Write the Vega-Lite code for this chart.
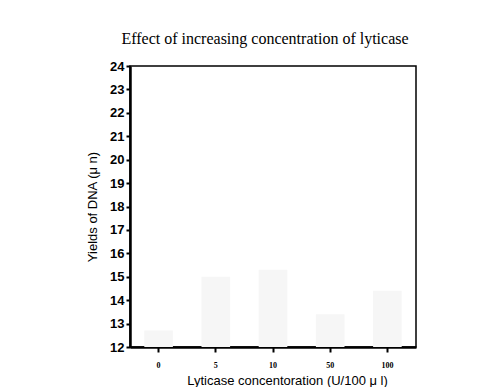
{
  "$schema": "https://vega.github.io/schema/vega-lite/v6.json",
  "autosize": "none",
  "width": 286,
  "height": 281,
  "padding": {"left": 130, "top": 66, "right": 86, "bottom": 40},
  "background": "white",
  "title": {"text": "Effect of increasing concentration of lyticase", "font": "Liberation Serif", "fontSize": 16, "fontWeight": "normal", "color": "black", "offset": 13, "anchor": "middle", "dx": -8},
  "config": {"view": {"stroke": "black", "strokeWidth": 1.5}},
  "data": {"values": [
    {"conc": "0", "yield": 12.7},
    {"conc": "5", "yield": 15.0},
    {"conc": "10", "yield": 15.3},
    {"conc": "50", "yield": 13.4},
    {"conc": "100", "yield": 14.4}
  ]},
  "mark": {"type": "bar", "fill": "#f6f6f6", "clip": true},
  "encoding": {
    "x": {"field": "conc", "type": "ordinal", "sort": ["0", "5", "10", "50", "100"],
      "scale": {"paddingInner": 0.5, "paddingOuter": 0.25},
      "axis": {"title": "Lyticase concentoration (U/100 \u03bc l)", "titleFont": "Liberation Sans", "titleFontSize": 13, "titleFontWeight": "normal", "titleColor": "black", "titlePadding": 5, "titleX": 157,
        "labelAngle": 0, "labelFont": "Liberation Serif", "labelFontSize": 8, "labelFontWeight": "bold", "labelColor": "black", "labelPadding": 9, "labelOverlap": false, "labelDx": 2,
        "domainColor": "black", "domainWidth": 2.5, "tickColor": "black", "tickWidth": 2, "tickSize": 5}},
    "y": {"field": "yield", "type": "quantitative",
      "scale": {"domain": [12, 24], "nice": false, "zero": false},
      "axis": {"title": "Yields of DNA (\u03bc n)", "titleFont": "Liberation Sans", "titleFontSize": 13, "titleFontWeight": "normal", "titleColor": "black", "titlePadding": 10,
        "values": [12,13,14,15,16,17,18,19,20,21,22,23,24], "grid": false,
        "labelFont": "Liberation Sans", "labelFontSize": 13, "labelFontWeight": "bold", "labelColor": "black", "labelPadding": 2,
        "domainColor": "black", "domainWidth": 2.5, "tickColor": "black", "tickWidth": 2, "tickSize": 4}}
  }
}
